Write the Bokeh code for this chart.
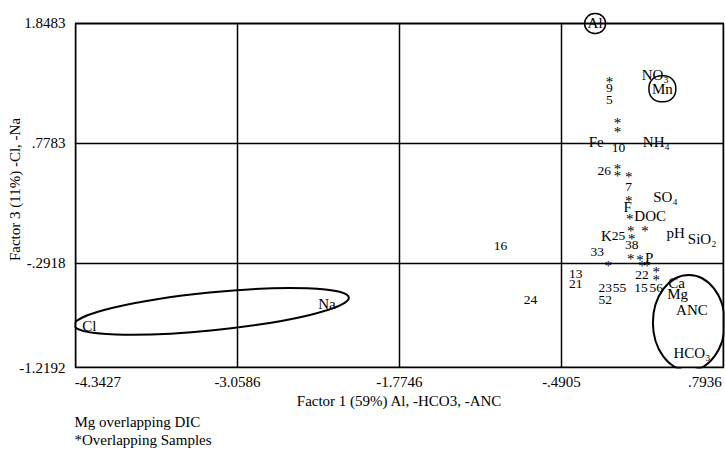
from bokeh.plotting import figure
from bokeh.models import ColumnDataSource, FixedTicker, Label, Title
from bokeh.core.properties import value
from bokeh.embed import file_html
from bokeh.resources import INLINE

FONT = "Liberation Serif"

# axis ticks (printed values)
x_ticks = [-4.3427, -3.0586, -1.7746, -0.4905, 0.7936]
x_tick_labels = ["-4.3427", "-3.0586", "-1.7746", "-.4905", ".7936"]
y_ticks = [-1.2192, -0.2918, 0.7783, 1.8483]
y_tick_labels = ["-1.2192", "-.2918", ".7783", "1.8483"]

# variable loadings (labels)
var_names = ["NO₃", "Fe", "NH₄", "SO₄", "F", "DOC", "pH", "SiO₂", "K", "P",
             "Ca", "Mg", "ANC", "HCO₃", "Na", "Cl"]
var_x = [0.2525, -0.2159, 0.2606, 0.3333, 0.0344, 0.2121, 0.4140, 0.6240, -0.1350, 0.2040,
         0.4221, 0.4302, 0.5432, 0.5432, -2.3496, -4.2337]
var_y = [1.3861, 0.7954, 0.7954, 0.2968, 0.2076, 0.1362, -0.0154, -0.0689, -0.0510, -0.2472,
         -0.4680, -0.5607, -0.7091, -1.0894, -0.6535, -0.8482]

# circled variables
circled_names = ["Al", "Mn"]
circled_x = [-0.2240, 0.3090]
circled_y = [1.8483, 1.2662]

# sample scores
sample_ids = ["9", "5", "10", "26", "7", "25", "38", "33", "16", "22", "13", "21",
              "23", "52", "55", "15", "56", "24"]
sample_x = [-0.1109, -0.1109, -0.0382, -0.1513, 0.0425, -0.0382, 0.0668, -0.2078, -0.9740, 0.1475,
            -0.3774, -0.3774, -0.1432, -0.1432, -0.0302, 0.1394, 0.2606, -0.7362]
sample_y = [1.2748, 1.1635, 0.7337, 0.5286, 0.3948, -0.0510, -0.1313, -0.1937, -0.1402, -0.3938,
            -0.3845, -0.4773, -0.5144, -0.6164, -0.5144, -0.5144, -0.5144, -0.6164]

# overlapping samples (*)
overlap_x = [-0.1109, -0.0463, -0.0463, -0.0463, -0.0463, 0.0425, 0.0425, 0.0506, 0.0587, 0.1717,
             0.0668, -0.1190, 0.0587, 0.1314, 0.1475, 0.1879, 0.2606, 0.2606]
overlap_y = [1.3518, 0.9837, 0.9067, 0.5732, 0.5108, 0.5019, 0.2878, 0.1273, 0.0292, 0.0292,
             -0.0510, -0.2918, -0.2205, -0.2294, -0.2918, -0.2918, -0.3382, -0.4124]

# grouping ellipses
ellipse_x = [-3.2650, 0.5190]
ellipse_y = [-0.7184, -0.8204]
ellipse_w = [2.19, 0.570]
ellipse_h = [0.338, 0.853]
ellipse_angle = [0.10, 0.0]

footnotes = ["Mg overlapping DIC", "*Overlapping Samples"]

# small margins so the border box and the circled "Al" are fully visible
x_pad_lo, x_pad_hi = 0.0079, 0.0079
y_pad_lo, y_pad_hi = 0.0089, 0.1159

p = figure(width=725, height=451,
           x_range=(x_ticks[0] - x_pad_lo, x_ticks[-1] + x_pad_hi),
           y_range=(y_ticks[0] - y_pad_lo, y_ticks[-1] + y_pad_hi),
           output_backend="svg", toolbar_location=None,
           min_border_left=74, min_border_right=1, min_border_top=10, min_border_bottom=83,
           background_fill_color="white", border_fill_color="white")

p.outline_line_color = None

for ax in (p.xaxis[0], p.yaxis[0]):
    ax.axis_line_color = None
    ax.major_tick_out = 0
    ax.major_tick_in = 0
    ax.minor_tick_out = 0
    ax.minor_tick_in = 0
    ax.major_label_text_font = FONT
    ax.major_label_text_font_size = "15px"
    ax.major_label_text_color = "black"
    ax.axis_label_text_font = FONT
    ax.axis_label_text_font_size = "15px"
    ax.axis_label_text_font_style = "normal"
    ax.axis_label_text_color = "black"

NB = "\u00a0"
p.xaxis.ticker = FixedTicker(ticks=x_ticks)
p.yaxis.ticker = FixedTicker(ticks=y_ticks)
xo = {t: l for t, l in zip(x_ticks, x_tick_labels)}
# first label starts at the frame edge, last one ends at it
xo[x_ticks[0]] = NB * 12 + x_tick_labels[0]
xo[x_ticks[-1]] = x_tick_labels[-1] + NB
p.xaxis.major_label_overrides = xo
p.yaxis.major_label_overrides = {t: l for t, l in zip(y_ticks, y_tick_labels)}
p.xaxis.major_label_standoff = 5
p.yaxis.major_label_standoff = 9
p.xaxis.axis_label = "Factor 1 (59%) Al, -HCO3, -ANC"
p.yaxis.axis_label = "Factor 3 (11%) -Cl, -Na"
p.xaxis.axis_label_standoff = 0
p.yaxis.axis_label_standoff = -7

# interior grid lines
p.xgrid.ticker = FixedTicker(ticks=x_ticks[1:-1])
p.ygrid.ticker = FixedTicker(ticks=y_ticks[1:-1])
p.xgrid.cross_bounds = (y_ticks[0], y_ticks[-1])
for g in (p.xgrid[0], p.ygrid[0]):
    g.grid_line_color = "black"
    g.grid_line_width = 1.5
    g.grid_line_alpha = 1.0

# border box at the axis limits
p.quad(left=[x_ticks[0]], right=[x_ticks[-1]], bottom=[y_ticks[0]], top=[y_ticks[-1]],
       fill_color=None, line_color="black", line_width=2)

# ellipses
p.ellipse(x=ellipse_x, y=ellipse_y, width=ellipse_w, height=ellipse_h, angle=ellipse_angle,
          fill_color=None, line_color="black", line_width=2)

# variable labels
p.text(x="x", y="y", text="t",
       source=ColumnDataSource(dict(x=var_x, y=var_y, t=var_names)),
       text_font=value(FONT), text_font_size="15px", text_align="center",
       text_baseline="middle", text_color="black")

# sample numbers
p.text(x="x", y="y", text="t",
       source=ColumnDataSource(dict(x=sample_x, y=sample_y, t=sample_ids)),
       text_font=value(FONT), text_font_size="13.5px", text_align="center",
       text_baseline="middle", text_color="black")

# overlapping-sample asterisks
p.text(x="x", y="y", text="t",
       source=ColumnDataSource(dict(x=overlap_x, y=overlap_y, t=["*"] * len(overlap_x))),
       text_font=value(FONT), text_font_size="15px", text_align="center",
       text_baseline="middle", text_color="black", y_offset=3)

# circled variables
pads = [(3, 2), (3, 5)]
for name, cx, cy, pad in zip(circled_names, circled_x, circled_y, pads):
    p.add_layout(Label(x=cx, y=cy, text=name, text_align="center", text_baseline="middle",
                       text_font=FONT, text_font_size="15px", text_color="black",
                       padding=pad, border_radius=12, border_line_color="black",
                       border_line_width=1.5, background_fill_color=None))

# footnotes below the plot
for i, note in enumerate(footnotes):
    p.add_layout(Title(text=note, align="left", text_font=FONT, text_font_size="15px",
                       text_font_style="normal", text_color="black",
                       standoff=0, offset=0), "below")

open("out.html", "w").write(file_html(p, INLINE))
